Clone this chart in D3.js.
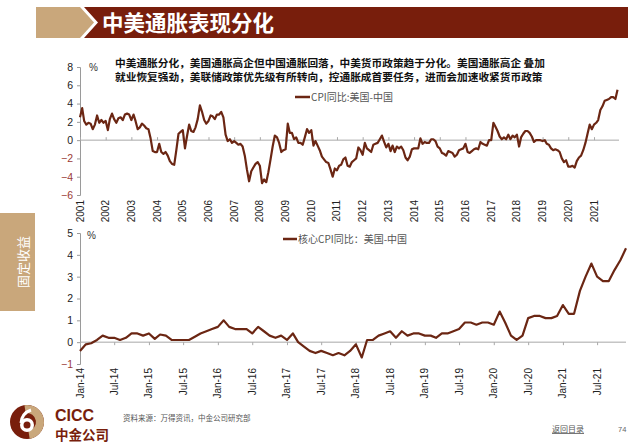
<!DOCTYPE html>
<html><head><meta charset="utf-8">
<script src="https://cdn.jsdelivr.net/npm/d3@7"></script>
<style>
html,body{margin:0;padding:0;background:#fff;}
svg{display:block;}
</style></head>
<body>
<svg id="c" width="640" height="447"></svg>
<script>
// ---------------- DATA ----------------
const titleText = "中美通胀表现分化";
const subtitleLines = [
  "中美通胀分化，美国通胀高企但中国通胀回落，中美货币政策趋于分化。美国通胀高企 叠加",
  "就业恢复强劲，美联储政策优先级有所转向，控通胀成首要任务，进而会加速收紧货币政策"
];
const topLegend = "CPI同比:美国-中国";
const bottomLegend = "核心CPI同比：美国-中国";
const sideLabel = "固定收益";
const sourceText = "资料来源：万得资讯，中金公司研究部";
const backText = "返回目录";
const pageNum = "74";

// Top chart: monthly CPI YoY gap (US - China), Jan 2001 .. Dec 2021
const topStart = [2001, 0];
const cpiGap = [
  2.5, 3.5, 2.1, 1.7, 1.9, 1.8, 1.2, 1.7, 2.7, 1.9, 2.2, 1.9,
  2.1, 1.1, 2.3, 2.9, 2.3, 1.9, 2.4, 2.5, 2.2, 2.8, 2.9, 2.8,
  2.2, 2.8, 2.1, 1.2, 1.4, 1.8, 1.6, 1.3, 1.2, 0.2, -1.2, -1.3,
  -1.3, -0.4, -1.3, -1.5, -1.3, -1.7, -2.3, -2.6, -2.7, -1.1, 0.7, 0.9,
  1.1, -0.9, 0.4, 1.7, 1.0, 0.9, 1.4, 2.3, 3.8, 3.1, 2.2, 1.8,
  2.1, 2.7, 2.6, 2.3, 2.8, 2.8, 3.1, 2.5, 0.6, -0.1, 0.1, -0.3,
  -0.1, -0.3, -0.5, -0.4, -0.7, -1.7, -3.2, -4.5, -3.4, -3.0, -2.6, -2.4,
  -2.8, -4.7, -4.3, -4.6, -3.5, -2.1, -0.7, 0.5, 0.3, -0.3, -1.3, -1.1,
  -1.0, 1.8, 0.8, 0.8, 0.1, 0.3, -0.3, -0.3, -0.5, 0.3, 1.2, 0.8,
  1.1, -0.6, -0.1, -0.6, -1.1, -1.8, -2.1, -2.4, -2.5, -3.2, -4.0, -3.1,
  -3.3, -2.8, -2.7, -2.1, -1.9, -2.8, -2.9, -2.4, -2.2, -2.0, -0.8, -1.1,
  -1.6, -0.3, -0.9, -1.1, -1.3, -0.5, -0.4, -0.3, 0.1, 0.5, -0.2, -0.8,
  -0.4, -1.2, -0.6, -1.3, -0.7, -0.9, -0.7, -1.1, -1.9, -2.2, -1.8, -1.0,
  -0.9, -0.9, -0.9, 0.2, -0.4, -0.2, -0.3, -0.3, 0.1, 0.1, -0.1, -0.7,
  -0.9, -1.4, -1.5, -1.7, -1.2, -1.3, -1.4, -1.8, -1.6, -1.1, -1.0, -0.9,
  -0.4, -1.3, -1.4, -1.2, -1.0, -0.9, -1.0, -0.2, -0.4, -0.5, -0.6, 0.0,
  0.0, 1.9, 1.5, 1.0, 0.4, 0.1, 0.3, 0.1, 0.6, 0.1, 0.5, 0.3,
  0.6, -0.7, 0.3, 0.7, 1.0, 1.0, 0.8, 0.4, -0.2, 0.0, 0.0, 0.0,
  -0.1, 0.0, -0.4, -0.5, -0.9, -1.1, -1.0, -1.1, -1.3, -2.0, -2.4, -2.2,
  -2.9, -2.9, -2.8, -3.0, -2.3, -1.9, -1.7, -1.1, -0.3, 0.7, 1.7, 1.2,
  1.7, 1.9, 2.2, 3.3, 3.7, 4.3, 4.4, 4.5, 4.7, 4.7, 4.5, 5.5
];
const topYTicks = [8, 6, 4, 2, 0, -2, -4, -6];
const topYearLabels = ["2001","2002","2003","2004","2005","2006","2007","2008","2009","2010","2011","2012","2013","2014","2015","2016","2017","2018","2019","2020","2021"];

// Bottom chart: monthly core CPI YoY gap (US - China), Jan 2014 .. Dec 2021
const botStart = [2014, 0];
const coreGap = [
  -0.4, -0.1, -0.05, 0.1, 0.3, 0.2, 0.2, 0.1, 0.2, 0.4, 0.4, 0.3,
  0.4, 0.15, 0.35, 0.3, 0.1, 0.1, 0.1, 0.1, 0.25, 0.4, 0.5, 0.6,
  0.7, 1.0, 0.7, 0.6, 0.6, 0.6, 0.4, 0.7, 0.5, 0.3, 0.2, 0.3,
  0.1, 0.4, 0.0, -0.2, -0.4, -0.5, -0.4, -0.5, -0.6, -0.5, -0.6, -0.4,
  -0.1, -0.7, 0.1, 0.1, 0.3, 0.4, 0.5, 0.2, 0.5, 0.3, 0.4, 0.4,
  0.3, 0.3, 0.2, 0.4, 0.4, 0.5, 0.6, 0.9, 0.9, 0.8, 0.9, 0.9,
  0.8, 1.4, 0.9, 0.3, 0.1, 0.3, 1.1, 1.2, 1.2, 1.1, 1.1, 1.2,
  1.7, 1.3, 1.3, 2.35, 3.0, 3.6, 3.0, 2.8, 2.8, 3.3, 3.75, 4.3
];
const botYTicks = [5, 4, 3, 2, 1, 0, -1];
const botXLabels = ["Jan-14","Jul-14","Jan-15","Jul-15","Jan-16","Jul-16","Jan-17","Jul-17","Jan-18","Jul-18","Jan-19","Jul-19","Jan-20","Jul-20","Jan-21","Jul-21"];

// ---------------- DRAW ----------------
const svg = d3.select("#c");
const RED = "#781e0c", TAN = "#c9a77b", LINE = "#6b2613";
const NUM_FONT = "'Liberation Sans', Arial, sans-serif";
const CJK_FONT = "'Noto Sans CJK SC', 'Noto Sans', sans-serif";
const NEG = "#9b3b35";

svg.append("rect").attr("width",640).attr("height",447).attr("fill","#fff");

// Header
svg.append("path").attr("d","M36,7 L80,7 L94,22.5 L80,38 L36,38 Z").attr("fill",TAN);
svg.append("path").attr("d","M84,7 L628,7 L628,38 L84,38 L98,22.5 Z").attr("fill",RED);
svg.append("text").attr("x",102).attr("y",30.5).text(titleText)
  .attr("font-family",CJK_FONT).attr("font-size",21.5).attr("font-weight",700).attr("fill","#fff");

// Subtitle
subtitleLines.forEach((t,i)=>{
  svg.append("text").attr("x",115).attr("y",67+i*13.5).text(t)
    .attr("font-family",CJK_FONT).attr("font-size",10.7).attr("font-weight",700).attr("fill","#111");
});

// Side label
svg.append("rect").attr("x",0).attr("y",213).attr("width",35).attr("height",98).attr("fill",TAN);
svg.append("text").attr("transform","translate(23,262) rotate(-90)").attr("text-anchor","middle")
  .attr("dy","0.35em").text(sideLabel).attr("font-family",CJK_FONT).attr("font-size",13).attr("fill","#fff");

function monthIndexDate(start, i){ return new Date(start[0], start[1]+i, 1); }

// ---- Top chart ----
const xTop = d3.scaleTime().domain([new Date(2001,0,1), new Date(2022,0,1)]).range([80, 619.7]);
const yTop = d3.scaleLinear().domain([-6, 8]).range([195, 67]);

const gTop = svg.append("g");
const yAxisTop = d3.axisLeft(yTop).tickValues(topYTicks).tickSize(3).tickFormat(d3.format("d"));
const yat = gTop.append("g").attr("transform","translate(80,0)").call(yAxisTop);
yat.select(".domain").attr("stroke","#9a9a9a");
yat.selectAll(".tick line").attr("stroke","#9a9a9a");
yat.selectAll(".tick text").attr("font-family",NUM_FONT).attr("font-size",10.5)
  .attr("fill",d=>d<0?NEG:"#222").attr("x",-7);
const yearDates = topYearLabels.map(y=>new Date(+y,0,1));
const xAxisTop = d3.axisTop(xTop).tickValues(yearDates).tickSize(3).tickFormat("");
const xat = gTop.append("g").attr("transform",`translate(0,${yTop(0)})`).call(xAxisTop);
xat.select(".domain").attr("stroke","#a8a8a8").attr("d",`M80,0H619`);
xat.selectAll(".tick line").attr("stroke","#a8a8a8");
gTop.selectAll("text.yl").data(topYearLabels).join("text").attr("class","yl")
  .attr("transform",d=>`translate(${xTop(new Date(+d,0,1))},200) rotate(-90)`)
  .attr("text-anchor","end").attr("dy","0.35em").text(d=>d)
  .attr("font-family",NUM_FONT).attr("font-size",10).attr("fill","#222");
gTop.append("text").attr("x",89).attr("y",71).text("%").attr("font-family",NUM_FONT).attr("font-size",10).attr("fill","#333");
const lineTop = d3.line().x((d,i)=>xTop(monthIndexDate(topStart,i))).y(d=>yTop(d)).curve(d3.curveLinear);
gTop.append("path").datum(cpiGap).attr("d",lineTop).attr("fill","none").attr("stroke",LINE)
  .attr("stroke-width",2.2).attr("stroke-linejoin","round");
gTop.append("line").attr("x1",295).attr("x2",310).attr("y1",97).attr("y2",97).attr("stroke",LINE).attr("stroke-width",2.5);
gTop.append("text").attr("x",311).attr("y",100.5).text(topLegend).attr("font-family",CJK_FONT).attr("font-size",10).attr("fill","#555");

// ---- Bottom chart ----
const xBot = d3.scaleTime().domain([new Date(2014,0,1), new Date(2021,11,1)]).range([80, 626]);
const yBot = d3.scaleLinear().domain([-1, 5]).range([364, 233]);
const gBot = svg.append("g");
const yAxisBot = d3.axisLeft(yBot).tickValues(botYTicks).tickSize(3).tickFormat(d3.format("d"));
const yab = gBot.append("g").attr("transform","translate(80,0)").call(yAxisBot);
yab.select(".domain").attr("stroke","#9a9a9a");
yab.selectAll(".tick line").attr("stroke","#9a9a9a");
yab.selectAll(".tick text").attr("font-family",NUM_FONT).attr("font-size",10.5)
  .attr("fill",d=>d<0?NEG:"#222").attr("x",-7);
const botDates = botXLabels.map((s,i)=>new Date(2014, i*6, 1));
const xAxisBot = d3.axisBottom(xBot).tickValues(botDates).tickSize(3).tickFormat("");
const xab = gBot.append("g").attr("transform",`translate(0,${yBot(0)})`).call(xAxisBot);
xab.select(".domain").attr("stroke","#a8a8a8").attr("d",`M80,0H626`);
xab.selectAll(".tick line").attr("stroke","#a8a8a8");
gBot.selectAll("text.xl").data(botXLabels).join("text").attr("class","xl")
  .attr("transform",(d,i)=>`translate(${xBot(botDates[i])},368) rotate(-90)`)
  .attr("text-anchor","end").attr("dy","0.35em").text(d=>d)
  .attr("font-family",NUM_FONT).attr("font-size",10).attr("fill","#222");
gBot.append("text").attr("x",87).attr("y",239).text("%").attr("font-family",NUM_FONT).attr("font-size",10).attr("fill","#333");
const lineBot = d3.line().x((d,i)=>xBot(monthIndexDate(botStart,i))).y(d=>yBot(d));
gBot.append("path").datum(coreGap).attr("d",lineBot).attr("fill","none").attr("stroke",LINE)
  .attr("stroke-width",2.2).attr("stroke-linejoin","round");
gBot.append("line").attr("x1",283).attr("x2",297).attr("y1",239).attr("y2",239).attr("stroke",LINE).attr("stroke-width",2.5);
gBot.append("text").attr("x",298).attr("y",242.5).text(bottomLegend).attr("font-family",CJK_FONT).attr("font-size",10).attr("fill","#555");

// ---- Footer ----
const logo = svg.append("g").attr("transform","translate(27,422)");
logo.append("circle").attr("r",17).attr("fill",RED);
logo.append("path").attr("d",d3.arc()({innerRadius:9,outerRadius:17,startAngle:-0.15,endAngle:Math.PI*0.95})).attr("fill",TAN);
logo.append("circle").attr("cx",0).attr("cy",3).attr("r",7).attr("fill","#fff");
logo.append("circle").attr("cx",0).attr("cy",3).attr("r",3.5).attr("fill",RED);
logo.append("path").attr("d","M-6,1 Q-5,-9 4,-12").attr("stroke","#fff").attr("stroke-width",3).attr("fill","none");
svg.append("text").attr("x",55).attr("y",421).text("CICC").attr("font-family",NUM_FONT)
  .attr("font-size",16).attr("font-weight",700).attr("fill",RED);
svg.append("text").attr("x",55).attr("y",440).text("中金公司").attr("font-family",CJK_FONT)
  .attr("font-size",13.5).attr("font-weight",700).attr("fill",RED);
svg.append("text").attr("x",123).attr("y",421).text(sourceText).attr("font-family",CJK_FONT)
  .attr("font-size",7.5).attr("fill","#555");
svg.append("text").attr("x",552).attr("y",432).text(backText).attr("font-family",CJK_FONT)
  .attr("font-size",8).attr("fill","#555").attr("text-decoration","underline");
svg.append("text").attr("x",618).attr("y",432).text(pageNum).attr("font-family",NUM_FONT)
  .attr("font-size",7.5).attr("fill","#666");
</script>
</body></html>
